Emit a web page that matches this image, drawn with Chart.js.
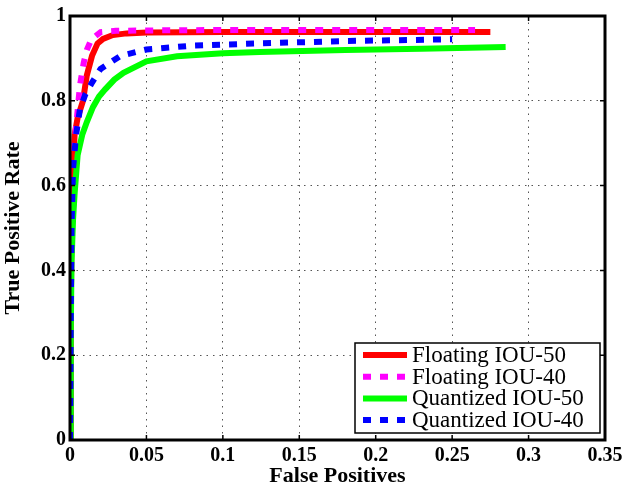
<!DOCTYPE html>
<html lang="en">
<head>
  <meta charset="UTF-8" />
  <title>ROC curves</title>
  <script src="https://cdn.jsdelivr.net/npm/chart.js"></script>
  <style>
    html, body { margin: 0; padding: 0; background: #fff; }
    #wrap { width: 628px; height: 490px; }
  </style>
</head>
<body>
  <div id="wrap"><canvas id="roc" width="628" height="490"></canvas></div>
  <script>
    // values
    const seriesLabels = ['Floating IOU-50', 'Floating IOU-40', 'Quantized IOU-50', 'Quantized IOU-40'];

    const floating50X = [0, 0.0005, 0.001, 0.002, 0.003, 0.005, 0.0085, 0.011, 0.0144, 0.018, 0.0216, 0.028, 0.037, 0.05, 0.1, 0.2, 0.275];
    const floating50Y = [0, 0.3, 0.5, 0.64, 0.72, 0.76, 0.80, 0.86, 0.906, 0.935, 0.946, 0.955, 0.959, 0.961, 0.962, 0.962, 0.962];

    const floating40X = [0, 0.0005, 0.001, 0.002, 0.004, 0.0065, 0.009, 0.011, 0.014, 0.02, 0.03, 0.05, 0.1, 0.2, 0.265];
    const floating40Y = [0, 0.3, 0.5, 0.66, 0.74, 0.836, 0.89, 0.92, 0.945, 0.962, 0.965, 0.966, 0.967, 0.967, 0.967];

    const quant50X = [0, 0.0005, 0.001, 0.002, 0.003, 0.005, 0.008, 0.011, 0.015, 0.019, 0.023, 0.029, 0.035, 0.05, 0.07, 0.1, 0.124, 0.18, 0.23, 0.285];
    const quant50Y = [0, 0.25, 0.42, 0.52, 0.58, 0.672, 0.72, 0.75, 0.785, 0.81, 0.827, 0.85, 0.866, 0.893, 0.905, 0.912, 0.915, 0.92, 0.923, 0.927];

    const quant40X = [0, 0.0005, 0.001, 0.002, 0.004, 0.0065, 0.01, 0.0144, 0.02, 0.033, 0.05, 0.08, 0.12, 0.18, 0.25];
    const quant40Y = [0, 0.3, 0.5, 0.64, 0.72, 0.78, 0.815, 0.843, 0.875, 0.906, 0.921, 0.93, 0.935, 0.941, 0.945];

    const xTicks = [0, 0.05, 0.1, 0.15, 0.2, 0.25, 0.3, 0.35];
    const yTicks = [0, 0.2, 0.4, 0.6, 0.8, 1];

    const pts = (xs, ys) => xs.map((x, i) => ({ x, y: ys[i] }));

    const serif = "'Liberation Serif', 'Times New Roman', serif";

    // matlab-style box, inward ticks and a legend inside the axes
    const matlabBox = {
      id: 'matlabBox',
      afterDraw(chart) {
        const { ctx, chartArea: a, scales: { x, y } } = chart;
        ctx.save();
        ctx.strokeStyle = '#000';
        ctx.lineWidth = 1.5;
        ctx.beginPath();
        xTicks.forEach(v => {
          const px = x.getPixelForValue(v);
          ctx.moveTo(px, a.bottom); ctx.lineTo(px, a.bottom - 5);
          ctx.moveTo(px, a.top); ctx.lineTo(px, a.top + 5);
        });
        yTicks.forEach(v => {
          const py = y.getPixelForValue(v);
          ctx.moveTo(a.left, py); ctx.lineTo(a.left + 5, py);
          ctx.moveTo(a.right, py); ctx.lineTo(a.right - 5, py);
        });
        ctx.stroke();
        ctx.lineWidth = 3;
        ctx.strokeRect(a.left, a.top, a.right - a.left, a.bottom - a.top);

        // legend
        const bx = 355, by = 343, bw = 245, bh = 90;
        ctx.fillStyle = '#fff';
        ctx.fillRect(bx, by, bw, bh);
        ctx.lineWidth = 1.5;
        ctx.strokeRect(bx, by, bw, bh);
        ctx.font = '23px ' + serif;
        ctx.textBaseline = 'middle';
        chart.data.datasets.forEach((ds, i) => {
          const ry = by + 12 + i * 21.7;
          ctx.strokeStyle = ds.borderColor;
          ctx.lineWidth = 6;
          ctx.setLineDash(ds.borderDash || []);
          ctx.beginPath();
          ctx.moveTo(bx + 8, ry); ctx.lineTo(bx + 52, ry);
          ctx.stroke();
          ctx.setLineDash([]);
          ctx.fillStyle = '#000';
          ctx.fillText(ds.label, bx + 57, ry + 1);
        });
        ctx.restore();
      }
    };

    new Chart(document.getElementById('roc'), {
      type: 'line',
      data: {
        datasets: [
          { label: seriesLabels[0], data: pts(floating50X, floating50Y), borderColor: '#ff0000', borderWidth: 6, order: 3 },
          { label: seriesLabels[1], data: pts(floating40X, floating40Y), borderColor: '#ff00ff', borderWidth: 6, borderDash: [8, 9], order: 2 },
          { label: seriesLabels[2], data: pts(quant50X, quant50Y), borderColor: '#00ff00', borderWidth: 6, order: 1 },
          { label: seriesLabels[3], data: pts(quant40X, quant40Y), borderColor: '#0000ff', borderWidth: 6, borderDash: [8, 9], order: 0 }
        ]
      },
      options: {
        responsive: false,
        animation: false,
        parsing: false,
        elements: { point: { radius: 0 }, line: { tension: 0, borderCapStyle: 'butt' } },
        layout: { padding: { top: 12, right: 23, left: 0, bottom: 0 } },
        plugins: { legend: { display: false }, tooltip: { enabled: false } },
        scales: {
          x: {
            type: 'linear',
            min: 0, max: 0.35,
            afterBuildTicks: s => { s.ticks = xTicks.map(v => ({ value: v })); },
            ticks: {
              color: '#000', padding: 4,
              font: { family: serif, size: 20, weight: 'bold' },
              callback: v => String(v)
            },
            grid: { color: '#555', lineWidth: 1, drawTicks: false },
            border: { display: false, dash: [1.5, 5] },
            title: {
              display: true, text: 'False Positives', color: '#000', padding: { top: 0, bottom: 0 },
              font: { family: serif, size: 22, weight: 'bold' }
            },
            afterFit: s => { s.height = 50; }
          },
          y: {
            type: 'linear',
            min: 0, max: 1,
            afterBuildTicks: s => { s.ticks = yTicks.map(v => ({ value: v })); },
            ticks: {
              color: '#000', padding: 4,
              font: { family: serif, size: 20, weight: 'bold' },
              callback: v => String(v)
            },
            grid: { color: '#555', lineWidth: 1, drawTicks: false },
            border: { display: false, dash: [1.5, 5] },
            title: {
              display: true, text: 'True Positive Rate', color: '#000', padding: { top: 0, bottom: 2 },
              font: { family: serif, size: 22, weight: 'bold' }
            },
            afterFit: s => { s.width = 70; }
          }
        }
      },
      plugins: [matlabBox]
    });
  </script>
</body>
</html>
